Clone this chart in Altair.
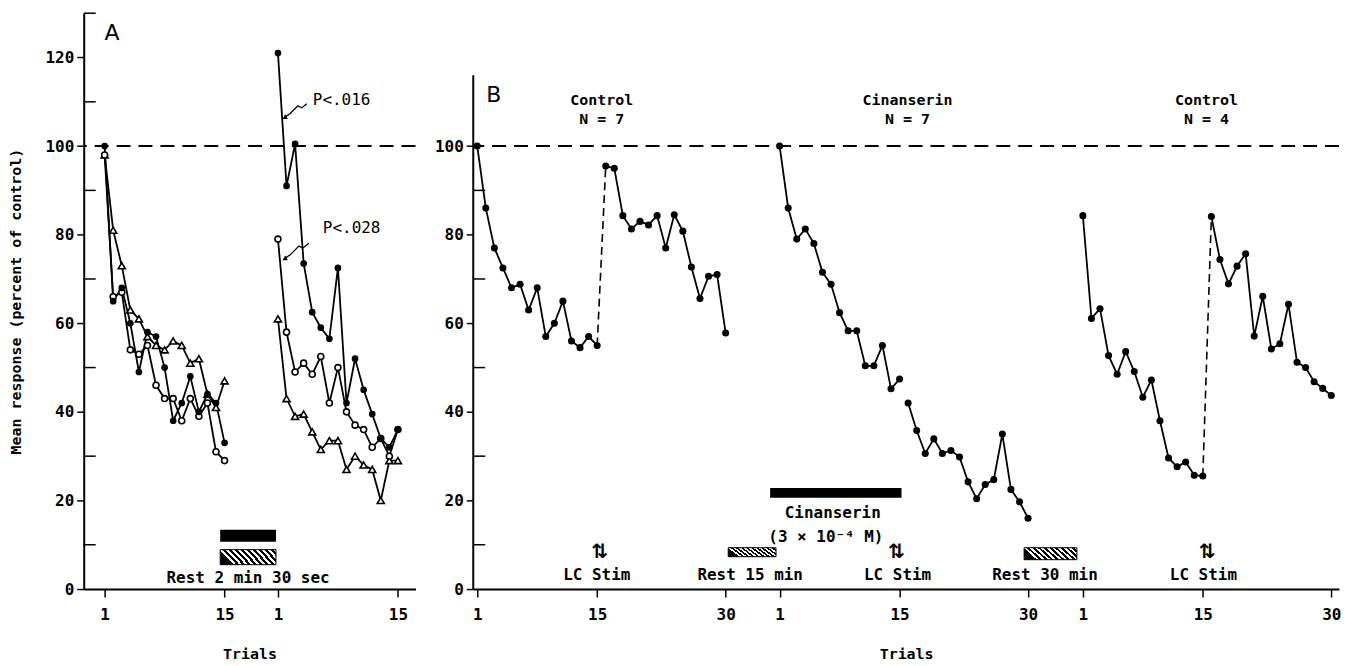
import altair as alt
import pandas as pd

FONT = "DejaVu Sans Mono"
SANS = "DejaVu Sans"

# ---------------- Panel A : mean response (percent of control) ----------------
A_TRIALS = list(range(1, 16))
A_FILLED_1 = [100, 65, 68, 60, 49, 58, 57, 50, 38, 42, 48, 40, 44, 42, 33]
A_OPEN_1 = [98, 66, 67, 54, 53, 55, 46, 43, 43, 38, 43, 39, 42, 31, 29]
A_TRI_1 = [98, 81, 73, 63, 61, 57, 55, 54, 56, 55, 51, 52, 44, 41, 47]
A_FILLED_2 = [121, 91, 100.5, 73.5, 62.5, 59, 56.5, 72.5, 42, 52, 45, 39.5, 34, 32, 36]
A_OPEN_2 = [79, 58, 49, 51, 48.5, 52.5, 42, 50, 40, 37, 36, 32, 34, 30, 36]
A_TRI_2 = [61, 43, 39, 39.5, 35.5, 31.5, 33.5, 33.5, 27, 30, 28, 27, 20, 29, 29]
A_BLOCK_START = [1, 21.23]          # axis position of trial 1 in each block
A_TICK_LABELS = ["1", "15", "1", "15"]

# ---------------- Panel B ----------------
B_TRIALS = list(range(1, 31))
B_CONTROL_1 = [100, 86, 77, 72.5, 68, 68.8, 63, 68, 57, 60, 65, 56, 54.5, 57, 55,
               95.5, 95, 84.3, 81.3, 83, 82.2, 84.3, 77, 84.5, 80.8, 72.7, 65.6, 70.6, 71, 57.8]
B_CINANSERIN = [100, 86, 79, 81.3, 78, 71.5, 68.8, 62.4, 58.3, 58.3, 50.4, 50.4, 55, 45.2, 47.4,
                42, 35.8, 30.6, 33.9, 30.6, 31.3, 29.8, 24.2, 20.4, 23.6, 24.7, 35, 22.5, 19.7, 16]
B_CONTROL_2 = [84.3, 61.1, 63.3, 52.7, 48.5, 53.6, 49.1, 43.3, 47.2, 38, 29.6, 27.6, 28.7, 25.7, 25.5,
               84.1, 74.4, 68.9, 72.9, 75.7, 57.1, 66.1, 54.2, 55.4, 64.3, 51.2, 50, 46.8, 45.3, 43.7]
B_BLOCK_START = [1, 36.3, 71.7]
B_BLOCK_TICKS = ["1", "15", "30"]
B_STIM_AFTER = 15
B_DASHED_BLOCKS = [0, 2]

# ---------------- build tables ----------------
a_rows = []
for blk, (f, o, t) in enumerate([(A_FILLED_1, A_OPEN_1, A_TRI_1), (A_FILLED_2, A_OPEN_2, A_TRI_2)]):
    for name, vals in (("filled", f), ("open", o), ("tri", t)):
        for tr, v in zip(A_TRIALS, vals):
            a_rows.append(dict(x=A_BLOCK_START[blk] + tr - 1, y=v, s=name, grp=f"{name}{blk}"))
dfA = pd.DataFrame(a_rows)

b_rows, b_conn = [], []
for blk, vals in enumerate([B_CONTROL_1, B_CINANSERIN, B_CONTROL_2]):
    for tr, v in zip(B_TRIALS, vals):
        half = "a" if tr <= B_STIM_AFTER else "b"
        b_rows.append(dict(x=B_BLOCK_START[blk] + tr - 1, y=v, grp=f"{blk}{half}"))
        if blk in B_DASHED_BLOCKS and tr in (B_STIM_AFTER, B_STIM_AFTER + 1):
            b_conn.append(dict(x=B_BLOCK_START[blk] + tr - 1, y=v, grp=f"c{blk}"))
dfB = pd.DataFrame(b_rows)
dfBc = pd.DataFrame(b_conn)

A_XTICKS = []
for s in A_BLOCK_START:
    A_XTICKS += [s, s + 14]
B_XTICKS = []
for s in B_BLOCK_START:
    B_XTICKS += [s, s + 14, s + 29]
B_TICK_LABELS = B_BLOCK_TICKS * 3

# ---------------- scales & axes ----------------
YS = alt.Scale(domain=[0, 130], nice=False, zero=True)
A_YAX = alt.Axis(values=list(range(0, 121, 20)), tickSize=7, labelPadding=3,
                 title="Mean response (percent of control)", titlePadding=22)
B_YAX = alt.Axis(values=list(range(0, 101, 20)), tickSize=7, labelPadding=3, title=None, domain=False)

A_XS = alt.Scale(domain=[-1.44, 37.28], nice=False, zero=False)
B_XS = alt.Scale(domain=[0.535, 101.6], nice=False, zero=False)


def xaxis(ticks, labels):
    expr = "[" + ",".join(f"'{l}'" for l in labels) + "][indexof([" + ",".join(str(t) for t in ticks) + "], datum.value)]"
    return alt.Axis(values=ticks, labelExpr=expr, title="Trials", tickSize=8, labelPadding=10, titlePadding=24)


A_XAX = xaxis(A_XTICKS, A_TICK_LABELS)
B_XAX = xaxis(B_XTICKS, B_TICK_LABELS)


def XA(f="x"):
    return alt.X(f"{f}:Q", scale=A_XS, axis=A_XAX)


def YA(f="y"):
    return alt.Y(f"{f}:Q", scale=YS, axis=A_YAX)


def XB(f="x"):
    return alt.X(f"{f}:Q", scale=B_XS, axis=B_XAX)


def YB(f="y"):
    return alt.Y(f"{f}:Q", scale=YS, axis=B_YAX)


def hatch(n=10):
    stops = []
    for i in range(n):
        a, b, c = i / n, (i + 0.5) / n, (i + 1) / n
        stops += [alt.GradientStop(color="black", offset=a), alt.GradientStop(color="black", offset=b),
                  alt.GradientStop(color="white", offset=b), alt.GradientStop(color="white", offset=c)]
    return alt.LinearGradient(gradient="linear", stops=stops, x1=0, y1=0.25, x2=1, y2=0)


REF = pd.DataFrame({"y": [100]})

# ---------------- Panel A layers ----------------
A_MINOR = pd.DataFrame({"y": list(range(10, 131, 20))})
A_BAR = pd.DataFrame({"x": [14.49], "x2": [21.0], "y": [13.4], "y2": [10.7]})
A_REST = pd.DataFrame({"x": [14.49], "x2": [21.0], "y": [8.9], "y2": [5.5]})
A_LETTER = pd.DataFrame({"x": [1.0], "y": [125.6], "t": ["A"]})
A_PTEXT = pd.DataFrame({"x": [25.3, 26.47], "y": [110.3, 81.5], "t": ["P<.016", "P<.028"]})
A_RESTTXT = pd.DataFrame({"x": [17.74], "y": [2.4], "t": ["Rest 2 min 30 sec"]})
A_SQ = pd.DataFrame({
    "x": [24.6, 24.02, 23.56, 23.09, 22.63, 22.05, 24.84, 24.14, 23.67, 23.21, 22.63, 22.05],
    "y": [109.55, 108.65, 109.1, 108.2, 107.3, 106.6, 78.09, 76.97, 77.42, 76.52, 75.39, 74.72],
    "g": ["p1"] * 6 + ["p2"] * 6,
})
A_HEAD = pd.DataFrame({"x": [22.0, 22.0], "y": [106.4, 74.5]})

a_layers = [
    alt.Chart(REF).mark_rule(strokeDash=[14, 8], strokeWidth=2, color="black").encode(y=YA()),
    alt.Chart(A_MINOR).mark_rule(strokeWidth=1.5, color="black").encode(x=alt.value(0), x2=alt.value(12), y=YA()),
    alt.Chart(dfA).mark_line(color="black", strokeWidth=1.8).encode(x=XA(), y=YA(), detail="grp:N"),
    alt.Chart(dfA[dfA.s == "tri"]).mark_point(shape="triangle-up", filled=True, fill="white", stroke="black",
                                              strokeWidth=1.6, size=50, opacity=1).encode(x=XA(), y=YA()),
    alt.Chart(dfA[dfA.s == "open"]).mark_point(shape="circle", filled=True, fill="white", stroke="black",
                                               strokeWidth=1.6, size=36, opacity=1).encode(x=XA(), y=YA()),
    alt.Chart(dfA[dfA.s == "filled"]).mark_point(shape="circle", filled=True, color="black",
                                                 size=45, opacity=1).encode(x=XA(), y=YA()),
    alt.Chart(A_BAR).mark_rect(color="black").encode(x=XA(), x2="x2:Q", y=YA(), y2="y2:Q"),
    alt.Chart(A_REST).mark_rect(fill=hatch(), stroke="black", strokeWidth=1).encode(x=XA(), x2="x2:Q", y=YA(), y2="y2:Q"),
    alt.Chart(A_LETTER).mark_text(font=SANS, fontSize=22, align="left", baseline="middle", color="black").encode(
        x=XA(), y=YA(), text="t:N"),
    alt.Chart(A_PTEXT).mark_text(font=FONT, fontSize=16, align="left", baseline="middle", color="black").encode(
        x=XA(), y=YA(), text="t:N"),
    alt.Chart(A_RESTTXT).mark_text(font=FONT, fontSize=16, fontWeight="bold", align="center", baseline="middle",
                                   color="black").encode(x=XA(), y=YA(), text="t:N"),
    alt.Chart(A_SQ).mark_line(color="black", strokeWidth=1.3).encode(x=XA(), y=YA(), detail="g:N"),
    alt.Chart(A_HEAD).mark_point(shape="triangle-up", filled=True, color="black", size=28, angle=240,
                                 opacity=1).encode(x=XA(), y=YA()),
]
chartA = alt.layer(*a_layers).properties(width=333, height=578)

# ---------------- Panel B layers ----------------
B_MINOR = pd.DataFrame({"y": list(range(10, 91, 20))})
B_SPINE = pd.DataFrame({"y": [0], "y2": [116]})
B_BAR = pd.DataFrame({"x": [35.19], "x2": [50.53], "y": [22.8], "y2": [20.6]})
B_REST = pd.DataFrame({"x": [30.3, 64.84], "x2": [35.88, 71.0], "y": [9.33, 9.33], "y2": [7.3, 6.63]})
B_LETTER = pd.DataFrame({"x": [2.05], "y": [111.6], "t": ["B"]})
B_BOTTOM = pd.DataFrame({
    "x": [14.95, 32.86, 50.07, 67.28, 85.77, 42.5, 41.7],
    "y": [3.26, 3.26, 3.26, 3.26, 3.26, 17.2, 11.8],
    "t": ["LC Stim", "Rest 15 min", "LC Stim", "Rest 30 min", "LC Stim", "Cinanserin", "(3 × 10⁻⁴ M)"],
})
B_ARROWS = pd.DataFrame({"x": [15.3, 49.95, 86.23], "y": [8.4, 8.4, 8.4], "t": ["⇅", "⇅", "⇅"]})
B_COND = pd.DataFrame({
    "x": [15.53, 15.53, 51.23, 51.23, 86.12, 86.12],
    "y": [110.5, 106.0, 110.5, 106.0, 110.5, 106.0],
    "t": ["Control", "N = 7", "Cinanserin", "N = 7", "Control", "N = 4"],
})

b_layers = [
    alt.Chart(REF).mark_rule(strokeDash=[14, 8], strokeWidth=2, color="black").encode(y=YB()),
    alt.Chart(B_SPINE).mark_rule(strokeWidth=2, color="black").encode(x=alt.value(0), y=YB(), y2="y2:Q"),
    alt.Chart(B_MINOR).mark_rule(strokeWidth=1.5, color="black").encode(x=alt.value(0), x2=alt.value(12), y=YB()),
    alt.Chart(dfBc).mark_line(color="black", strokeWidth=1.6, strokeDash=[8, 5]).encode(x=XB(), y=YB(), detail="grp:N"),
    alt.Chart(dfB).mark_line(color="black", strokeWidth=1.8).encode(x=XB(), y=YB(), detail="grp:N"),
    alt.Chart(dfB).mark_point(shape="circle", filled=True, color="black", size=50, opacity=1).encode(x=XB(), y=YB()),
    alt.Chart(B_BAR).mark_rect(color="black").encode(x=XB(), x2="x2:Q", y=YB(), y2="y2:Q"),
    alt.Chart(B_REST).mark_rect(fill=hatch(), stroke="black", strokeWidth=1).encode(x=XB(), x2="x2:Q", y=YB(), y2="y2:Q"),
    alt.Chart(B_LETTER).mark_text(font=SANS, fontSize=22, align="left", baseline="middle", color="black").encode(
        x=XB(), y=YB(), text="t:N"),
    alt.Chart(B_BOTTOM).mark_text(font=FONT, fontSize=16, fontWeight="bold", align="center", baseline="middle",
                                  color="black").encode(x=XB(), y=YB(), text="t:N"),
    alt.Chart(B_ARROWS).mark_text(font=SANS, fontSize=20, fontWeight="bold", align="center", baseline="middle",
                                  color="black").encode(x=XB(), y=YB(), text="t:N"),
    alt.Chart(B_COND).mark_text(font=FONT, fontSize=15, fontWeight="bold", align="center", baseline="middle",
                                color="black").encode(x=XB(), y=YB(), text="t:N"),
]
chartB = alt.layer(*b_layers).properties(width=869, height=578)

chart = (
    alt.hconcat(chartA, chartB, spacing=18)
    .properties(padding={"left": 0, "top": 3, "right": 0, "bottom": 0})
    .configure_view(stroke=None)
    .configure_axis(
        labelFont=FONT, labelFontSize=16, labelFontWeight="bold", labelColor="black",
        titleFont=FONT, titleFontSize=15, titleFontWeight="bold", titleColor="black",
        domainColor="black", domainWidth=2, tickColor="black", tickWidth=1.5, grid=False,
    )
)
chart.save("out.html", embed_options={"renderer": "svg", "actions": False})
